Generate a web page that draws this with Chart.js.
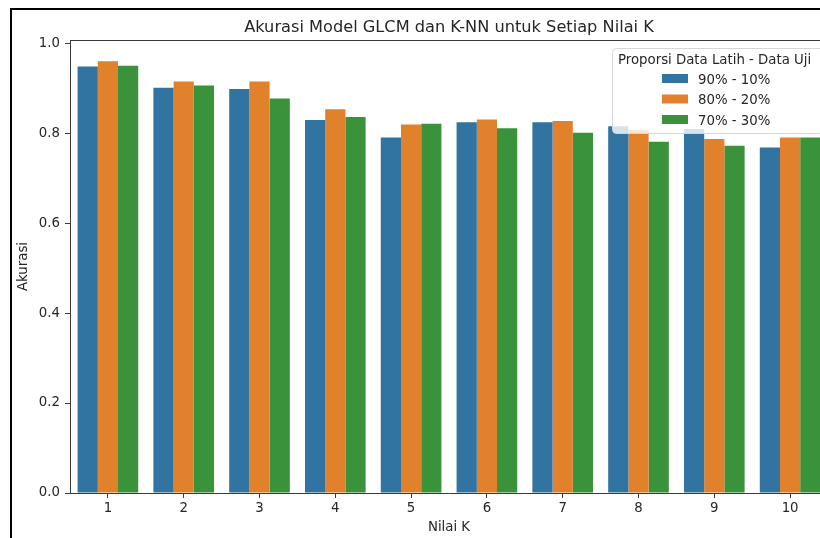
<!DOCTYPE html>
<html><head><meta charset="utf-8">
<script src="https://cdn.jsdelivr.net/npm/chart.js"></script>
<style>
html,body{margin:0;padding:0;background:#fff;overflow:hidden;width:820px;height:538px;}
#clip{position:absolute;left:0;top:0;width:820px;height:538px;overflow:hidden;background:#fff;}
#wrap{position:absolute;left:0;top:0;width:850px;height:538px;}
#c{width:850px;height:538px;display:block;}
#frame{position:absolute;left:10px;top:8px;width:1200px;height:800px;border-left:2px solid #000;border-top:2px solid #000;border-right:none;border-bottom:none;pointer-events:none;}
</style></head><body>
<div id="clip">
<div id="wrap"><canvas id="c" width="850" height="538"></canvas></div>
<div id="frame"></div>
</div>
<script>
// ---- data ----
const categories = ['1','2','3','4','5','6','7','8','9','10'];
const seriesLabels = ['90% - 10%','80% - 20%','70% - 30%'];
const s90 = [0.948, 0.901, 0.898, 0.829, 0.790, 0.824, 0.824, 0.815, 0.809, 0.768];
const s80 = [0.960, 0.915, 0.915, 0.853, 0.819, 0.830, 0.827, 0.807, 0.787, 0.790];
const s70 = [0.950, 0.906, 0.877, 0.836, 0.821, 0.811, 0.801, 0.781, 0.772, 0.790];
const yTicks = [0.0, 0.2, 0.4, 0.6, 0.8, 1.0];
const titleText = 'Akurasi Model GLCM dan K-NN untuk Setiap Nilai K';
const xTitle = 'Nilai K';
const yTitle = 'Akurasi';
const legendTitle = 'Proporsi Data Latih - Data Uji';
const colors = ['#3274a1', '#e1812c', '#3a923a'];

const FONT = "'DejaVu Sans', sans-serif";
const TXT = '#262626';
const SPINE = '#3a3a3a';
Chart.defaults.font.family = FONT;
Chart.defaults.color = TXT;

const titlePlugin = {
  id: 'mplTitle',
  afterDraw(chart) {
    const {ctx, chartArea} = chart;
    ctx.save();
    ctx.font = '16.2px ' + FONT;
    ctx.fillStyle = TXT;
    ctx.textAlign = 'center';
    ctx.textBaseline = 'alphabetic';
    ctx.fillText(titleText, (chartArea.left + chartArea.right) / 2, chartArea.top - 8);
    ctx.restore();
  }
};

const spinePlugin = {
  id: 'spines',
  afterDatasetsDraw(chart) {
    const {ctx, chartArea} = chart;
    ctx.save();
    ctx.strokeStyle = SPINE;
    ctx.lineWidth = 1;
    ctx.beginPath();
    ctx.moveTo(chartArea.left, chartArea.top + 0.5);
    ctx.lineTo(chartArea.right, chartArea.top + 0.5);
    ctx.stroke();
    ctx.restore();
  }
};

const legendPlugin = {
  id: 'mplLegend',
  afterDatasetsDraw(chart) {
    const {ctx, chartArea} = chart;
    const left = chartArea.right - 216, top = chartArea.top + 8;
    const w = 212, h = 85;
    ctx.save();
    ctx.beginPath();
    if (ctx.roundRect) ctx.roundRect(left + 0.5, top + 0.5, w, h, 4); else ctx.rect(left + 0.5, top + 0.5, w, h);
    ctx.fillStyle = 'rgba(255,255,255,0.8)';
    ctx.fill();
    ctx.strokeStyle = '#d6d6d6';
    ctx.lineWidth = 1;
    ctx.stroke();
    ctx.font = '13.3px ' + FONT;
    ctx.fillStyle = TXT;
    ctx.textBaseline = 'alphabetic';
    ctx.textAlign = 'left';
    ctx.fillText(legendTitle, left + 6, top + 15.5);
    chart.data.datasets.forEach((ds, i) => {
      const base = top + 35.5 + i * 20.5;
      ctx.fillStyle = ds.backgroundColor;
      ctx.fillRect(left + 50, base - 9.5, 26, 9);
      ctx.fillStyle = TXT;
      ctx.fillText(ds.label, left + 86, base);
    });
    ctx.restore();
  }
};

new Chart(document.getElementById('c'), {
  type: 'bar',
  data: {
    labels: categories,
    datasets: [
      {label: seriesLabels[0], data: s90, backgroundColor: colors[0]},
      {label: seriesLabels[1], data: s80, backgroundColor: colors[1]},
      {label: seriesLabels[2], data: s70, backgroundColor: colors[2]}
    ]
  },
  options: {
    responsive: false,
    animation: false,
    devicePixelRatio: 1,
    layout: {padding: {left: 0, top: 40, right: 22, bottom: 0}},
    datasets: {bar: {categoryPercentage: 0.8, barPercentage: 1.0, borderWidth: 0}},
    plugins: {legend: {display: false}, title: {display: false}, tooltip: {enabled: false}},
    scales: {
      x: {
        offset: true,
        grid: {display: true, drawOnChartArea: false, drawTicks: true, tickLength: 5, tickColor: SPINE, offset: false},
        border: {display: true, color: SPINE, width: 1},
        ticks: {font: {size: 13.3}, color: TXT, padding: 3, maxRotation: 0, autoSkip: false},
        title: {display: true, text: xTitle, font: {size: 13.3}, color: TXT, padding: {top: 0, bottom: 2}},
        afterFit(scale) { scale.height = 45; }
      },
      y: {
        min: 0,
        max: 1.007,
        grid: {display: true, drawOnChartArea: false, drawTicks: true, tickLength: 5, tickColor: SPINE},
        border: {display: true, color: SPINE, width: 1},
        ticks: {font: {size: 13.3}, color: TXT, padding: 5, callback: v => Number(v).toFixed(1)},
        afterBuildTicks(scale) { scale.ticks = yTicks.map(v => ({value: v})); },
        title: {display: true, text: yTitle, font: {size: 13.3}, color: TXT, padding: {top: 16, bottom: 0}},
        afterFit(scale) { scale.width = 70; }
      }
    }
  },
  plugins: [titlePlugin, spinePlugin, legendPlugin]
});
</script>
</body></html>
